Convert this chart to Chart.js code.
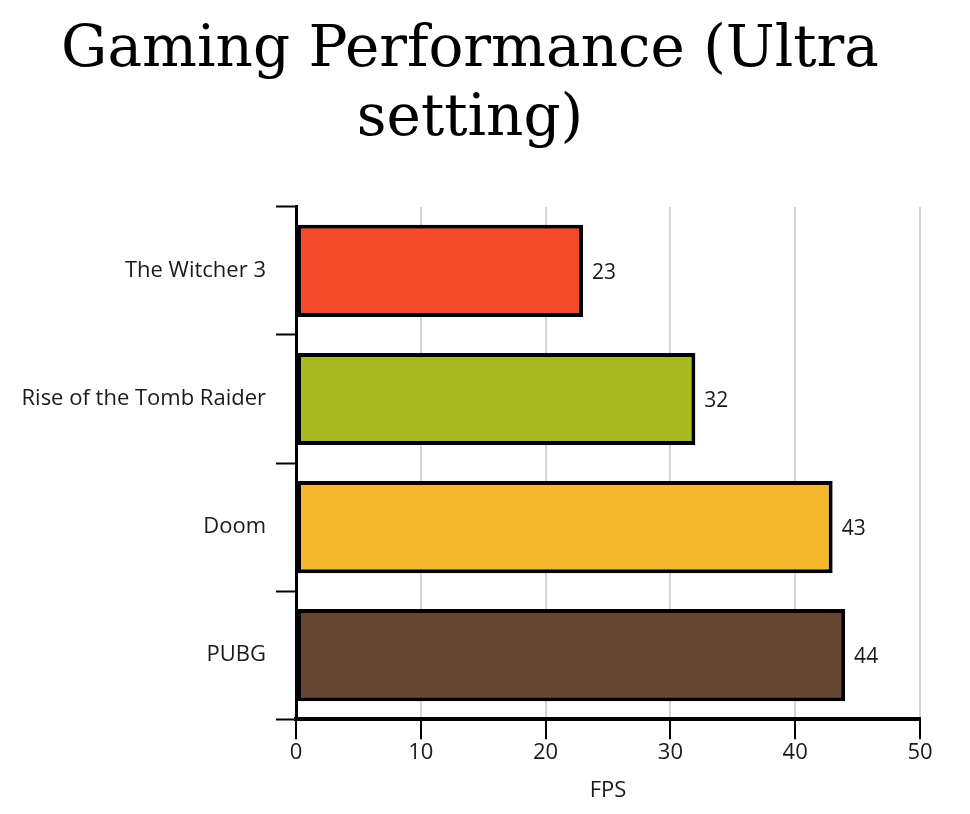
<!DOCTYPE html>
<html>
<head>
<meta charset="utf-8">
<script src="https://cdn.jsdelivr.net/npm/chart.js@4/dist/chart.umd.min.js"></script>
<style>
html,body{margin:0;padding:0;background:#fff;}
#wrap{width:970px;height:814px;}
</style>
</head>
<body>
<div id="wrap"><canvas id="chartFPS"></canvas></div>
<script>
// data
const games = ['The Witcher 3', 'Rise of the Tomb Raider', 'Doom', 'PUBG']
const fpsValues = [23, 32, 43, 44]
const barColours = ['#f44b28', '#a8b81f', '#f5b82b', '#664632']
const fpsTicks = [0, 10, 20, 30, 40, 50]

const valueLabelsPlugin = {
  id: 'valueLabels',
  afterDatasetsDraw(chart) {
    const ctx = chart.ctx
    const meta = chart.getDatasetMeta(0)
    ctx.save()
    ctx.font = '21px "Open Sans"'
    ctx.fillStyle = '#1a1a1a'
    ctx.textBaseline = 'middle'
    meta.data.forEach((bar, i) => {
      ctx.fillText(chart.data.datasets[0].data[i], bar.x + 9, bar.y + 2)
    })
    ctx.restore()
  }
}

let chartFPS = new Chart(
  document.getElementById('chartFPS'),
  {
    type: 'bar',
    data: {
      labels: games,
      datasets: [
        {
          data: fpsValues,
          backgroundColor: barColours,
          borderColor: '#000',
          borderWidth: 4,
          borderSkipped: false,
          barPercentage: 0.72,
          categoryPercentage: 1
        }
      ]
    },
    options: {
      indexAxis: 'y',
      responsive: true,
      maintainAspectRatio: false,
      animation: false,
      layout: {padding: {left: 20, right: 50, top: 17, bottom: 6}},
      plugins: {
        legend: {display: false},
        tooltip: {enabled: false},
        title: {
          display: true,
          text: ['Gaming Performance (Ultra', 'setting)'],
          color: '#000',
          font: {family: 'DejaVu Serif', size: 58, weight: 'normal', lineHeight: 1.18},
          padding: {top: 0, bottom: 53}
        }
      },
      scales: {
        x: {
          min: 0,
          max: 50,
          afterBuildTicks: (axis) => { axis.ticks = fpsTicks.map(v => ({value: v})) },
          grid: {color: '#d4d4d4', lineWidth: 2, tickColor: '#000', tickWidth: 2, tickLength: 20},
          border: {color: '#000', width: 4},
          ticks: {color: '#1a1a1a', font: {family: 'Open Sans', size: 22}, padding: 0},
          title: {display: true, text: 'FPS', color: '#1a1a1a', font: {family: 'Open Sans', size: 22}, padding: {top: 12}}
        },
        y: {
          afterFit: (axis) => { axis.width = 276 },
          grid: {offset: true, drawOnChartArea: false, tickColor: '#000', tickWidth: 2, tickLength: 20},
          border: {color: '#000', width: 3},
          ticks: {color: '#1a1a1a', font: {family: 'Open Sans', size: 22}, padding: 10}
        }
      }
    },
    plugins: [valueLabelsPlugin]
  }
)
</script>
</body>
</html>
